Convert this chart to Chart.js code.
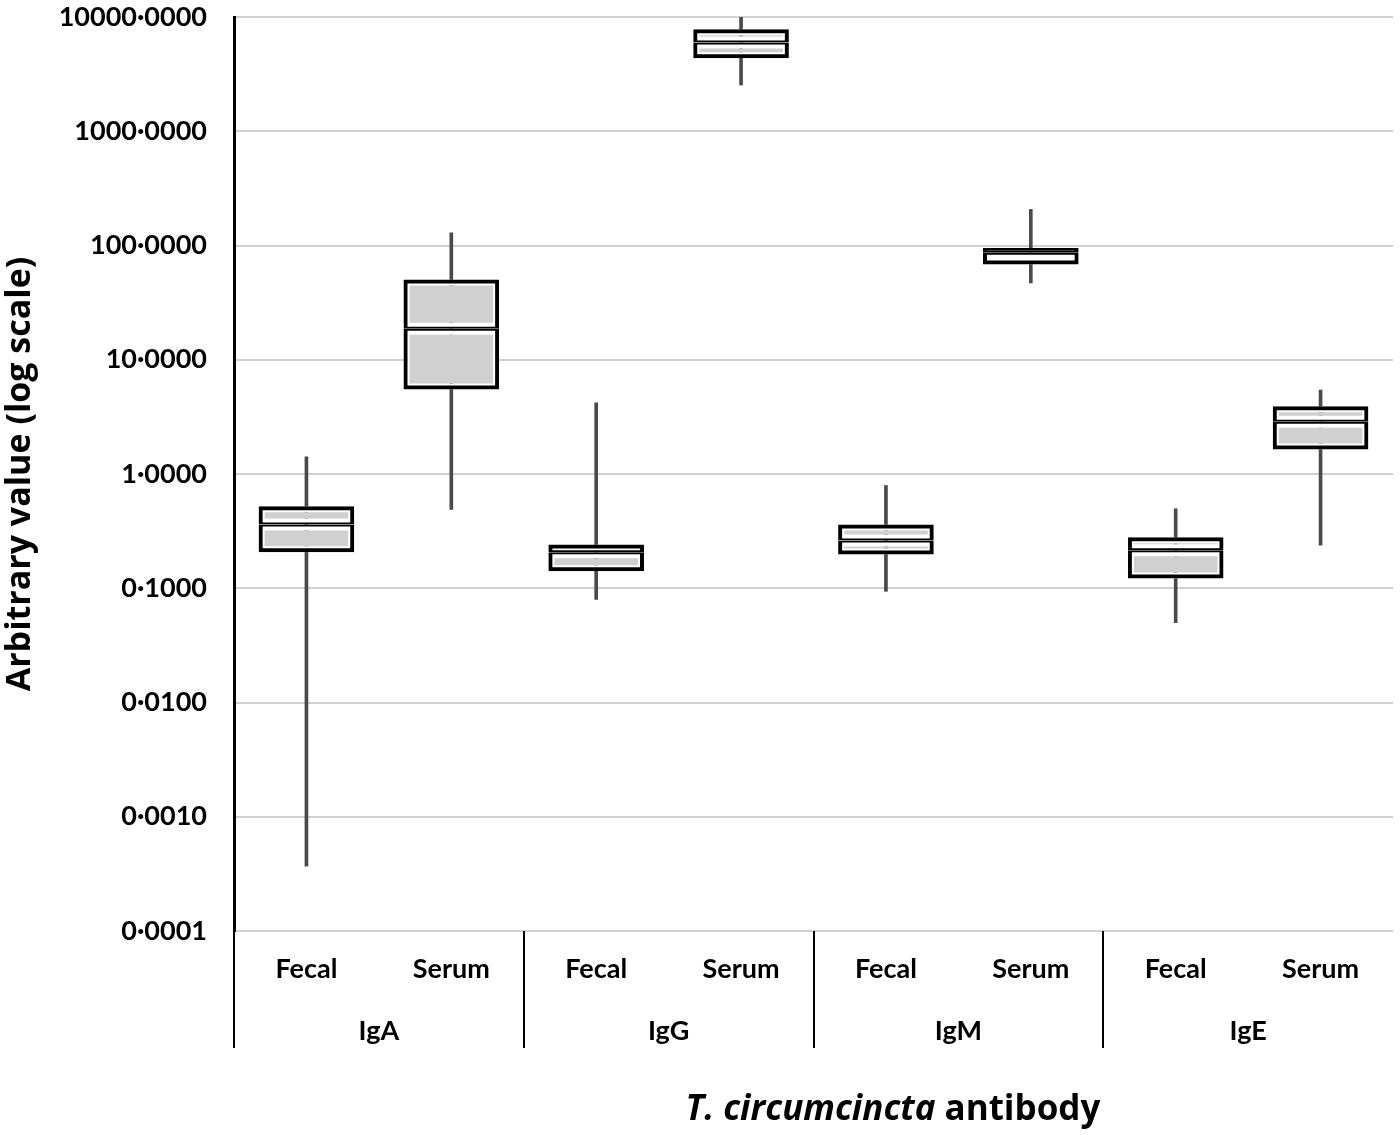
<!DOCTYPE html>
<html lang="en">
<head>
  <meta charset="UTF-8">
  <title>T. circumcincta antibody box plot</title>
  <script src="https://cdn.jsdelivr.net/npm/chart.js"></script>
  <style>
    body, html {
      margin: 0;
      padding: 0;
      background: #fff;
    }
    .wrap {
      position: relative;
      width: 1400px;
      height: 1135px;
    }
    .x-title {
      position: absolute;
      left: 543px;
      width: 700px;
      top: 1084px;
      text-align: center;
      font-family: "Open Sans", sans-serif;
      font-weight: bold;
      font-size: 35px;
      line-height: 46px;
      color: #000;
    }
  </style>
</head>
<body>
  <div class="wrap">
    <canvas id="box" width="1400" height="1135"></canvas>
    <div class="x-title"><i>T. circumcincta</i> antibody</div>
  </div>

  <script>
    // sample type per box, and antibody groups (two boxes each)
    const categories = ['Fecal', 'Serum', 'Fecal', 'Serum', 'Fecal', 'Serum', 'Fecal', 'Serum'];
    const groups = ['IgA', 'IgG', 'IgM', 'IgE'];

    // box plot values (log scale)
    const whiskerLow  = [0.00037, 0.49, 0.080, 2540, 0.094, 47, 0.050, 0.238];
    const quart1      = [0.207, 5.5, 0.141, 4350, 0.197, 68.3, 0.122, 1.64];
    const medians     = [0.361, 18.7, 0.207, 5970, 0.262, 86.5, 0.215, 2.87];
    const quart3      = [0.522, 50.5, 0.241, 7800, 0.361, 94.9, 0.280, 3.92];
    const whiskerHigh = [1.41, 129, 4.2, 10300, 0.793, 207, 0.496, 5.42];

    const yTicks = [0.0001, 0.001, 0.01, 0.1, 1, 10, 100, 1000, 10000];

    const font = 'Lato, sans-serif';
    const titleFont = '"Open Sans", sans-serif';
    const boxFill = '#d0d0d0';

    const lowerHalf = categories.map((_, i) => [quart1[i], medians[i]]);
    const upperHalf = categories.map((_, i) => [medians[i], quart3[i]]);
    const whiskers = categories.map((_, i) => [whiskerLow[i], whiskerHigh[i]]);

    const boxBase = {
      grouped: false,
      barPercentage: 0.66,
      categoryPercentage: 1,
      borderSkipped: false
    };

    new Chart(document.getElementById('box'), {
      type: 'bar',
      data: {
        labels: categories,
        datasets: [
          { label: 'whisker', data: whiskers, order: 3, grouped: false,
            barThickness: 3, backgroundColor: '#4a4a4a', borderWidth: 0 },
          { ...boxBase, label: 'q1-median', data: lowerHalf, order: 2,
            backgroundColor: boxFill, borderColor: '#fff', borderWidth: 6 },
          { ...boxBase, label: 'median-q3', data: upperHalf, order: 2,
            backgroundColor: boxFill, borderColor: '#fff', borderWidth: 6 },
          { ...boxBase, label: 'lower outline', data: lowerHalf, order: 1,
            backgroundColor: 'transparent', borderColor: '#000',
            borderWidth: { top: 2, right: 4, bottom: 4, left: 4 } },
          { ...boxBase, label: 'upper outline', data: upperHalf, order: 1,
            backgroundColor: 'transparent', borderColor: '#000',
            borderWidth: { top: 4, right: 4, bottom: 2, left: 4 } }
        ]
      },
      options: {
        responsive: false,
        animation: false,
        layout: { padding: { top: 17, right: 7, bottom: 0, left: 0 } },
        plugins: {
          legend: { display: false },
          tooltip: { enabled: false }
        },
        scales: {
          y: {
            type: 'logarithmic',
            min: 0.0001,
            max: 10000,
            afterBuildTicks: s => { s.ticks = yTicks.map(v => ({ value: v })); },
            afterFit: s => {
              s.width = 234;
              s.paddingTop = 0;
              s.paddingBottom = 0;
            },
            border: { color: '#000', width: 3 },
            grid: { color: '#d0d0d0', lineWidth: 2, drawTicks: false },
            ticks: {
              padding: 27,
              color: '#000',
              font: { family: font, weight: 'bold', size: 27 },
              callback: v => Number(v).toFixed(4).replace('.', '\u00b7')
            },
            title: {
              display: true,
              text: 'Arbitrary value (log scale)',
              color: '#000',
              padding: { top: 0, bottom: 0 },
              font: { family: titleFont, weight: 'bold', size: 34 }
            }
          },
          x: {
            offset: true,
            afterFit: s => { s.height = 54; },
            border: { display: false },
            grid: {
              offset: true,
              drawOnChartArea: false,
              tickLength: 117,
              lineWidth: 2,
              color: c => (c.index % 2 === 0 ? '#000' : 'transparent')
            },
            ticks: {
              padding: -95,
              color: '#000',
              maxRotation: 0,
              font: { family: font, weight: 'bold', size: 27 }
            }
          },
          x2: {
            type: 'category',
            position: 'bottom',
            labels: groups,
            offset: true,
            afterFit: s => { s.height = 150; },
            border: { display: false },
            grid: { display: false },
            ticks: {
              padding: 22,
              color: '#000',
              maxRotation: 0,
              font: { family: font, weight: 'bold', size: 27 }
            }
          }
        }
      }
    });
  </script>
</body>
</html>
